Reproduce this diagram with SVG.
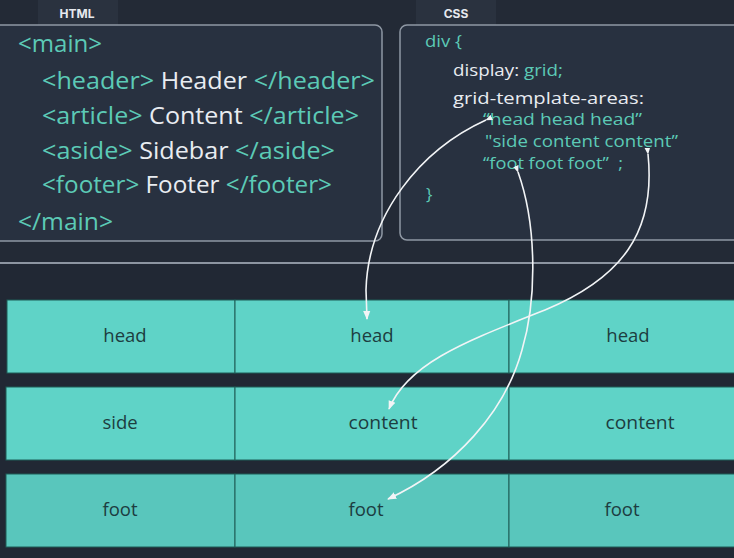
<svg xmlns="http://www.w3.org/2000/svg" width="734" height="558" viewBox="0 0 734 558">
<defs>
<style>
.tab{fill:#2a323f}
.tablbl{font-family:"Inter","Open Sans",sans-serif;font-size:12px;font-weight:700;fill:#e6e9ee;text-anchor:middle}
.panel{fill:#283140;stroke:#8f98a4;stroke-width:1.5}
.code{font-family:"Open Sans","Noto Sans",sans-serif;font-size:24px}
.css{font-family:"Open Sans","Noto Sans",sans-serif;font-size:17px}
.tag{fill:#5ccab6}
.txt{fill:#e8ecf1}
.cell{fill:#5fd3c7;stroke:#1f5c57;stroke-width:1}
.cell3{fill:#59c6bc;stroke:#1f5c57;stroke-width:1}
.clbl{font-family:"Open Sans","Noto Sans",sans-serif;font-size:18.5px;fill:#1d3d40;text-anchor:middle}
.conn{fill:none;stroke:#f2f4f6;stroke-width:1.6}
</style>
<marker id="ahEnd" viewBox="0 0 10 10" refX="9" refY="5" markerWidth="9" markerHeight="9" orient="auto" markerUnits="userSpaceOnUse">
<path d="M0,1 L10,5 L0,9 z" fill="#f2f4f6"/>
</marker>
<marker id="tail" viewBox="0 0 10 10" refX="1" refY="5" markerWidth="7" markerHeight="7" orient="auto-start-reverse" markerUnits="userSpaceOnUse">
<path d="M0,5 L10,1 L10,9 z" fill="#f2f4f6"/>
</marker>
</defs>
<rect x="0" y="0" width="734" height="558" fill="#232a36"/>
<rect x="0" y="262" width="734" height="296" fill="#212834"/>
<line x1="0" y1="263" x2="734" y2="263" stroke="#8d95a1" stroke-width="2"/>

<g id="html-panel">
<rect class="tab" x="38" y="0" width="80" height="25"/>
<text class="tablbl" x="77" y="18">HTML</text>
<rect class="panel" x="-6" y="25" width="388" height="216" rx="7"/>
<text class="code" x="18" y="52" textLength="84" lengthAdjust="spacingAndGlyphs"><tspan class="tag">&lt;main&gt;</tspan></text>
<text class="code" x="42" y="89" textLength="333" lengthAdjust="spacingAndGlyphs"><tspan class="tag">&lt;header&gt;</tspan><tspan class="txt"> Header </tspan><tspan class="tag">&lt;/header&gt;</tspan></text>
<text class="code" x="42" y="124" textLength="317" lengthAdjust="spacingAndGlyphs"><tspan class="tag">&lt;article&gt;</tspan><tspan class="txt"> Content </tspan><tspan class="tag">&lt;/article&gt;</tspan></text>
<text class="code" x="42" y="159" textLength="293" lengthAdjust="spacingAndGlyphs"><tspan class="tag">&lt;aside&gt;</tspan><tspan class="txt"> Sidebar </tspan><tspan class="tag">&lt;/aside&gt;</tspan></text>
<text class="code" x="42" y="193" textLength="290" lengthAdjust="spacingAndGlyphs"><tspan class="tag">&lt;footer&gt;</tspan><tspan class="txt"> Footer </tspan><tspan class="tag">&lt;/footer&gt;</tspan></text>
<text class="code" x="18" y="230" textLength="95" lengthAdjust="spacingAndGlyphs"><tspan class="tag">&lt;/main&gt;</tspan></text>
</g>

<g id="css-panel">
<rect class="tab" x="416" y="0" width="80" height="25"/>
<text class="tablbl" x="456" y="18">CSS</text>
<rect class="panel" x="400" y="25" width="344" height="215" rx="7"/>
<text class="css" x="425" y="47" textLength="37" lengthAdjust="spacingAndGlyphs"><tspan class="tag">div {</tspan></text>
<text class="css" x="453" y="76" textLength="110" lengthAdjust="spacingAndGlyphs"><tspan class="txt">display: </tspan><tspan class="tag">grid;</tspan></text>
<text class="css txt" x="453" y="104" textLength="191" lengthAdjust="spacingAndGlyphs">grid-template-areas:</text>
<text class="css tag" x="483" y="125" textLength="159" lengthAdjust="spacingAndGlyphs">“head head head”</text>
<text class="css tag" x="485" y="147" textLength="193" lengthAdjust="spacingAndGlyphs">"side content content”</text>
<text class="css tag" x="483" y="169" textLength="140" lengthAdjust="spacingAndGlyphs" xml:space="preserve">“foot foot foot”  ;</text>
<text class="css tag" x="426" y="200">}</text>
</g>

<g id="row-head">
<rect class="cell" x="7" y="300" width="228" height="73"/>
<rect class="cell" x="235" y="300" width="274" height="73"/>
<rect class="cell" x="509" y="300" width="230" height="73"/>
<text class="clbl" x="125" y="342">head</text>
<text class="clbl" x="372" y="342">head</text>
<text class="clbl" x="628" y="342">head</text>
</g>
<g id="row-content">
<rect class="cell" x="6" y="387" width="229" height="73"/>
<rect class="cell" x="235" y="387" width="274" height="73"/>
<rect class="cell" x="509" y="387" width="230" height="73"/>
<text class="clbl" x="120" y="429">side</text>
<text class="clbl" x="383" y="429" textLength="69" lengthAdjust="spacingAndGlyphs">content</text>
<text class="clbl" x="640" y="429" textLength="69" lengthAdjust="spacingAndGlyphs">content</text>
</g>
<g id="row-foot">
<rect class="cell3" x="6" y="474" width="229" height="73"/>
<rect class="cell3" x="235" y="474" width="274" height="73"/>
<rect class="cell3" x="509" y="474" width="230" height="73"/>
<text class="clbl" x="120" y="516">foot</text>
<text class="clbl" x="366" y="516">foot</text>
<text class="clbl" x="622" y="516">foot</text>
</g>

<g id="connectors">
<path class="conn" d="M486,120 C420,150 368,215 366,290 L367,319" marker-start="url(#tail)" marker-end="url(#ahEnd)"/>
<path class="conn" d="M648,154 C656,232 622,278 545,310 C470,340 408,362 389,409" marker-start="url(#tail)" marker-end="url(#ahEnd)"/>
<path class="conn" d="M518,172 C537,225 537,300 522,350 C505,412 455,468 388,499" marker-start="url(#tail)" marker-end="url(#ahEnd)"/>
</g>
</svg>
